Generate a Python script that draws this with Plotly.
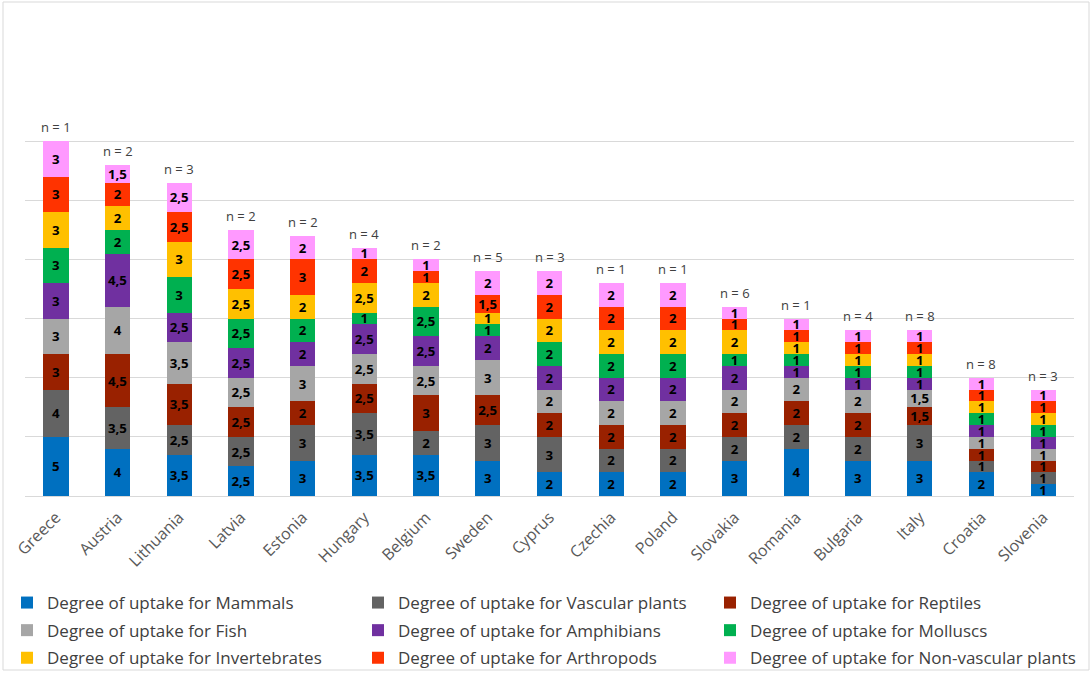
import plotly.graph_objects as go

# Countries (x categories) and number of assessments per country
countries = ["Greece", "Austria", "Lithuania", "Latvia", "Estonia", "Hungary", "Belgium",
             "Sweden", "Cyprus", "Czechia", "Poland", "Slovakia", "Romania", "Bulgaria",
             "Italy", "Croatia", "Slovenia"]
n_counts = [1, 2, 3, 2, 2, 4, 2, 5, 3, 1, 1, 6, 1, 4, 8, 8, 3]

# Degree of uptake per taxonomic group (stacked bottom to top)
mammals = [5, 4, 3.5, 2.5, 3, 3.5, 3.5, 3, 2, 2, 2, 3, 4, 3, 3, 2, 1]
vascular_plants = [4, 3.5, 2.5, 2.5, 3, 3.5, 2, 3, 3, 2, 2, 2, 2, 2, 3, 1, 1]
reptiles = [3, 4.5, 3.5, 2.5, 2, 2.5, 3, 2.5, 2, 2, 2, 2, 2, 2, 1.5, 1, 1]
fish = [3, 4, 3.5, 2.5, 3, 2.5, 2.5, 3, 2, 2, 2, 2, 2, 2, 1.5, 1, 1]
amphibians = [3, 4.5, 2.5, 2.5, 2, 2.5, 2.5, 2, 2, 2, 2, 2, 1, 1, 1, 1, 1]
molluscs = [3, 2, 3, 2.5, 2, 1, 2.5, 1, 2, 2, 2, 1, 1, 1, 1, 1, 1]
invertebrates = [3, 2, 3, 2.5, 2, 2.5, 2, 1, 2, 2, 2, 2, 1, 1, 1, 1, 1]
arthropods = [3, 2, 2.5, 2.5, 3, 2, 1, 1.5, 2, 2, 2, 1, 1, 1, 1, 1, 1]
non_vascular_plants = [3, 1.5, 2.5, 2.5, 2, 1, 1, 2, 2, 2, 2, 1, 1, 1, 1, 1, 1]

series = [
    ("Degree of uptake for Mammals", mammals, "#0070C0", "legend"),
    ("Degree of uptake for Vascular plants", vascular_plants, "#636363", "legend2"),
    ("Degree of uptake for Reptiles", reptiles, "#992100", "legend3"),
    ("Degree of uptake for Fish", fish, "#A6A6A6", "legend"),
    ("Degree of uptake for Amphibians", amphibians, "#7030A0", "legend2"),
    ("Degree of uptake for Molluscs", molluscs, "#00B050", "legend3"),
    ("Degree of uptake for Invertebrates", invertebrates, "#FFC000", "legend"),
    ("Degree of uptake for Arthropods", arthropods, "#FF3300", "legend2"),
    ("Degree of uptake for Non-vascular plants", non_vascular_plants, "#FF99FF", "legend3"),
]


def fmt(v):
    # decimal comma, no trailing ",0"
    return (f"{v:g}").replace(".", ",")


fig = go.Figure()
for i, (name, vals, color, leg) in enumerate(series):
    fig.add_trace(go.Bar(
        x=countries, y=vals, name=name,
        marker=dict(color=color, line=dict(width=0)),
        text=[fmt(v) for v in vals],
        textposition="inside", insidetextanchor="middle", textangle=0,
        textfont=dict(family="Open Sans", size=13.5, color="black", weight="bold"),
        legend=leg, legendgroup=f"g{i}",
        hoverinfo="skip",
    ))

totals = [sum(s[1][k] for s in series) for k in range(len(countries))]
for c, t, n in zip(countries, totals, n_counts):
    fig.add_annotation(x=c, y=t, text=f"n = {n}", showarrow=False,
                       yanchor="bottom", yshift=3,
                       font=dict(family="Open Sans", size=13, color="#404040"))

# plot-area margins in pixels
L, R, T, B = 25, 16, 82, 177
PW, PH = 1090 - L - R, 673 - T - B


def px_x(x):
    return (x - L) / PW


def px_y(y):
    return (673 - B - y) / PH


# outer chart frame
fig.add_shape(type="rect", xref="paper", yref="paper",
              x0=px_x(3), x1=px_x(1089), y0=px_y(670), y1=px_y(2),
              line=dict(color="#D9D9D9", width=1), fillcolor="rgba(0,0,0,0)", layer="below")

legend_common = dict(orientation="v", traceorder="grouped", tracegroupgap=2.5,
                     font=dict(family="Open Sans", size=17, color="#404040"),
                     bgcolor="rgba(0,0,0,0)", xanchor="left", yanchor="top",
                     itemclick=False, itemdoubleclick=False)

fig.update_layout(
    width=1090, height=673,
    margin=dict(l=L, r=R, t=T, b=B, pad=0, autoexpand=False),
    paper_bgcolor="white", plot_bgcolor="white",
    barmode="stack", bargap=0.59,
    showlegend=True,
    uniformtext=dict(mode="show", minsize=13),
    font=dict(family="Open Sans", color="#595959"),
    xaxis=dict(tickangle=-45, tickfont=dict(family="Open Sans", size=16, color="#595959"),
               ticklabelstandoff=8, ticklabelshift=0,
               showgrid=False, showline=False, ticks="", fixedrange=True),
    yaxis=dict(range=[0, 35], dtick=5, showticklabels=False, showgrid=True,
               gridcolor="#D9D9D9", gridwidth=1, zeroline=True, zerolinecolor="#D9D9D9",
               zerolinewidth=1, showline=False, ticks="", fixedrange=True),
    legend=dict(x=px_x(7), y=px_y(585), **legend_common),
    legend2=dict(x=px_x(358), y=px_y(585), **legend_common),
    legend3=dict(x=px_x(710), y=px_y(585), **legend_common),
)

fig.write_html("out.html")
